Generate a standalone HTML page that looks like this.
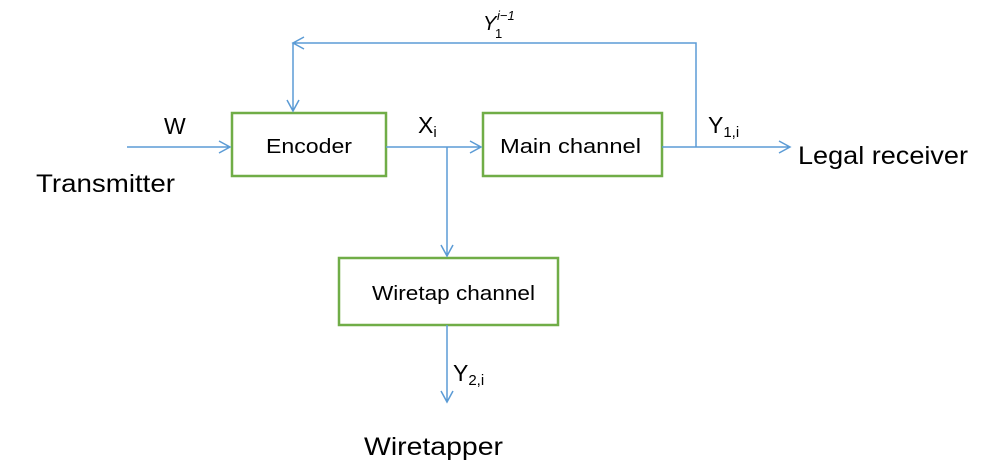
<!DOCTYPE html>
<html><head><meta charset="utf-8"><style>
html,body{margin:0;padding:0;background:#fff;}
svg{display:block;}
text{font-family:"Liberation Sans",sans-serif;fill:#000;}
</style></head><body>
<svg width="994" height="470" viewBox="0 0 994 470" xmlns="http://www.w3.org/2000/svg">
<g fill="none" stroke="#70ad47" stroke-width="2.5">
<rect x="232" y="113" width="154" height="63"/>
<rect x="483" y="113" width="179" height="63"/>
<rect x="339" y="258" width="219" height="67"/>
</g>
<g fill="none" stroke="#5b9bd5" stroke-width="1.5">
<path d="M127 147 H230 M219 141 L230 147 L219 153"/>
<path d="M386 147 H481 M470 141 L481 147 L470 153"/>
<path d="M447 147 V256 M441 245 L447 256 L453 245"/>
<path d="M662 147 H790 M779 141 L790 147 L779 153"/>
<path d="M696 147 V43 H293 V111 M304 37 L293 43 L304 49 M287 100 L293 111 L299 100"/>
<path d="M447 325 V402 M441 391 L447 402 L453 391"/>
</g>
<text x="164" y="134" font-size="23">W</text>
<text x="36" y="192" font-size="25" textLength="139" lengthAdjust="spacingAndGlyphs">Transmitter</text>
<text x="266" y="153" font-size="20" textLength="86" lengthAdjust="spacingAndGlyphs">Encoder</text>
<text x="418" y="133" font-size="23">X<tspan font-size="15" dy="4">i</tspan></text>
<text x="500" y="153" font-size="20" textLength="141" lengthAdjust="spacingAndGlyphs">Main channel</text>
<text x="708" y="133" font-size="23">Y<tspan font-size="15" dy="4">1,i</tspan></text>
<text x="798" y="164" font-size="25" textLength="170" lengthAdjust="spacingAndGlyphs">Legal receiver</text>
<text x="372" y="300" font-size="20" textLength="163" lengthAdjust="spacingAndGlyphs">Wiretap channel</text>
<text x="453" y="381" font-size="23">Y<tspan font-size="15" dy="4">2,i</tspan></text>
<text x="364" y="455" font-size="25" textLength="139" lengthAdjust="spacingAndGlyphs">Wiretapper</text>
<text x="483" y="30" font-size="20" font-style="italic" font-family="Liberation Serif,serif">Y</text>
<text x="495" y="38" font-size="13" font-family="Liberation Serif,serif">1</text>
<text x="497" y="20" font-size="13" font-style="italic" font-family="Liberation Serif,serif">i−1</text>
</svg>
</body></html>
